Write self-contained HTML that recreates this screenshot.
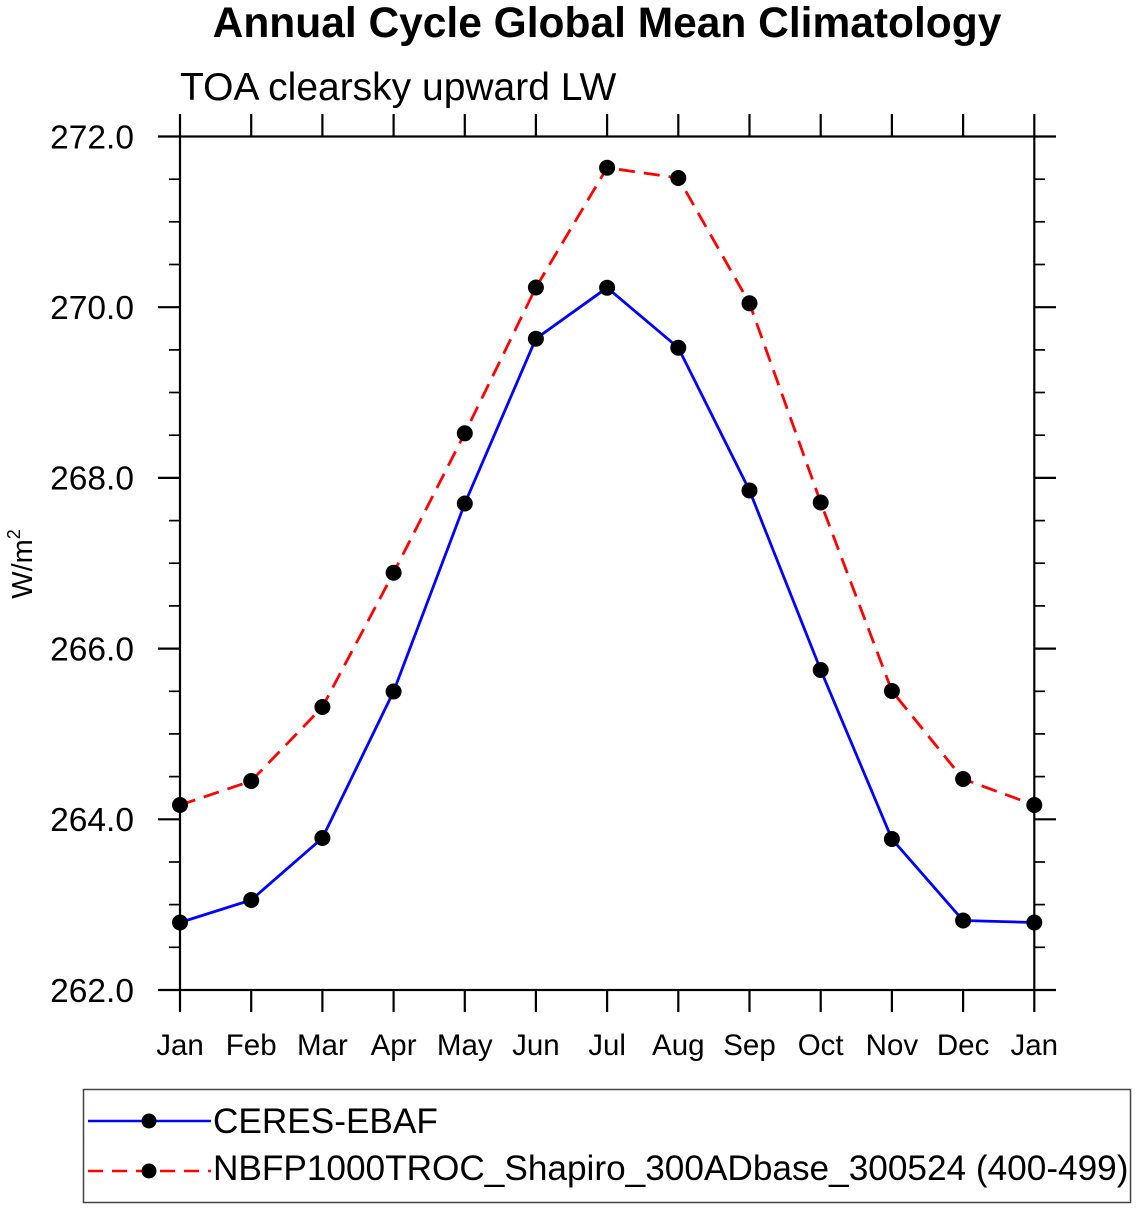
<!DOCTYPE html>
<html>
<head>
<meta charset="utf-8">
<style>
html,body{margin:0;padding:0;background:#fff;}
svg{display:block;}
text{font-family:"Liberation Sans",Arial,sans-serif;fill:#000;}
</style>
</head>
<body>
<svg width="1137" height="1209" viewBox="0 0 1137 1209" xmlns="http://www.w3.org/2000/svg">
<rect width="1137" height="1209" fill="#fff"/>
<text x="607" y="37" font-size="42.5" font-weight="bold" text-anchor="middle">Annual Cycle Global Mean Climatology</text>
<text x="180" y="100" font-size="39">TOA clearsky upward LW</text>

<!-- frame -->
<rect x="180" y="136.5" width="854.3" height="853.5" fill="none" stroke="#000" stroke-width="2.2"/>

<!-- y ticks -->
<g stroke="#000" stroke-width="2.2">
<line x1="158" y1="136.5" x2="180" y2="136.5"/>
<line x1="158" y1="307.2" x2="180" y2="307.2"/>
<line x1="158" y1="477.9" x2="180" y2="477.9"/>
<line x1="158" y1="648.6" x2="180" y2="648.6"/>
<line x1="158" y1="819.3" x2="180" y2="819.3"/>
<line x1="158" y1="990" x2="180" y2="990"/>
<line x1="1034.3" y1="136.5" x2="1056" y2="136.5"/>
<line x1="1034.3" y1="307.2" x2="1056" y2="307.2"/>
<line x1="1034.3" y1="477.9" x2="1056" y2="477.9"/>
<line x1="1034.3" y1="648.6" x2="1056" y2="648.6"/>
<line x1="1034.3" y1="819.3" x2="1056" y2="819.3"/>
<line x1="1034.3" y1="990" x2="1056" y2="990"/>
</g>
<g stroke="#000" stroke-width="1.7">
<line x1="169" y1="179.2" x2="180" y2="179.2"/><line x1="169" y1="221.8" x2="180" y2="221.8"/><line x1="169" y1="264.5" x2="180" y2="264.5"/>
<line x1="169" y1="349.9" x2="180" y2="349.9"/><line x1="169" y1="392.5" x2="180" y2="392.5"/><line x1="169" y1="435.2" x2="180" y2="435.2"/>
<line x1="169" y1="520.6" x2="180" y2="520.6"/><line x1="169" y1="563.2" x2="180" y2="563.2"/><line x1="169" y1="605.9" x2="180" y2="605.9"/>
<line x1="169" y1="691.3" x2="180" y2="691.3"/><line x1="169" y1="733.9" x2="180" y2="733.9"/><line x1="169" y1="776.6" x2="180" y2="776.6"/>
<line x1="169" y1="862" x2="180" y2="862"/><line x1="169" y1="904.6" x2="180" y2="904.6"/><line x1="169" y1="947.3" x2="180" y2="947.3"/>
<line x1="1034.3" y1="179.2" x2="1045" y2="179.2"/><line x1="1034.3" y1="221.8" x2="1045" y2="221.8"/><line x1="1034.3" y1="264.5" x2="1045" y2="264.5"/>
<line x1="1034.3" y1="349.9" x2="1045" y2="349.9"/><line x1="1034.3" y1="392.5" x2="1045" y2="392.5"/><line x1="1034.3" y1="435.2" x2="1045" y2="435.2"/>
<line x1="1034.3" y1="520.6" x2="1045" y2="520.6"/><line x1="1034.3" y1="563.2" x2="1045" y2="563.2"/><line x1="1034.3" y1="605.9" x2="1045" y2="605.9"/>
<line x1="1034.3" y1="691.3" x2="1045" y2="691.3"/><line x1="1034.3" y1="733.9" x2="1045" y2="733.9"/><line x1="1034.3" y1="776.6" x2="1045" y2="776.6"/>
<line x1="1034.3" y1="862" x2="1045" y2="862"/><line x1="1034.3" y1="904.6" x2="1045" y2="904.6"/><line x1="1034.3" y1="947.3" x2="1045" y2="947.3"/>
</g>

<!-- x ticks -->
<g stroke="#000" stroke-width="2.2">
<line x1="180" y1="114" x2="180" y2="136.5"/><line x1="251.2" y1="114" x2="251.2" y2="136.5"/><line x1="322.4" y1="114" x2="322.4" y2="136.5"/>
<line x1="393.6" y1="114" x2="393.6" y2="136.5"/><line x1="464.8" y1="114" x2="464.8" y2="136.5"/><line x1="535.9" y1="114" x2="535.9" y2="136.5"/>
<line x1="607.1" y1="114" x2="607.1" y2="136.5"/><line x1="678.3" y1="114" x2="678.3" y2="136.5"/><line x1="749.5" y1="114" x2="749.5" y2="136.5"/>
<line x1="820.7" y1="114" x2="820.7" y2="136.5"/><line x1="891.9" y1="114" x2="891.9" y2="136.5"/><line x1="963.1" y1="114" x2="963.1" y2="136.5"/>
<line x1="1034.3" y1="114" x2="1034.3" y2="136.5"/>
<line x1="180" y1="990" x2="180" y2="1012"/><line x1="251.2" y1="990" x2="251.2" y2="1012"/><line x1="322.4" y1="990" x2="322.4" y2="1012"/>
<line x1="393.6" y1="990" x2="393.6" y2="1012"/><line x1="464.8" y1="990" x2="464.8" y2="1012"/><line x1="535.9" y1="990" x2="535.9" y2="1012"/>
<line x1="607.1" y1="990" x2="607.1" y2="1012"/><line x1="678.3" y1="990" x2="678.3" y2="1012"/><line x1="749.5" y1="990" x2="749.5" y2="1012"/>
<line x1="820.7" y1="990" x2="820.7" y2="1012"/><line x1="891.9" y1="990" x2="891.9" y2="1012"/><line x1="963.1" y1="990" x2="963.1" y2="1012"/>
<line x1="1034.3" y1="990" x2="1034.3" y2="1012"/>
</g>

<!-- y tick labels -->
<g font-size="33.5" text-anchor="end">
<text x="134" y="148.3">272.0</text>
<text x="134" y="319">270.0</text>
<text x="134" y="489.7">268.0</text>
<text x="134" y="660.4">266.0</text>
<text x="134" y="831.1">264.0</text>
<text x="134" y="1001.8">262.0</text>
</g>

<!-- x tick labels -->
<g font-size="29.5" text-anchor="middle">
<text x="180" y="1055">Jan</text>
<text x="251.2" y="1055">Feb</text>
<text x="322.4" y="1055">Mar</text>
<text x="393.6" y="1055">Apr</text>
<text x="464.8" y="1055">May</text>
<text x="535.9" y="1055">Jun</text>
<text x="607.1" y="1055">Jul</text>
<text x="678.3" y="1055">Aug</text>
<text x="749.5" y="1055">Sep</text>
<text x="820.7" y="1055">Oct</text>
<text x="891.9" y="1055">Nov</text>
<text x="963.1" y="1055">Dec</text>
<text x="1034.3" y="1055">Jan</text>
</g>

<!-- y axis label -->
<text transform="translate(32,564) rotate(-90)" font-size="29" text-anchor="middle">W/m<tspan font-size="18" dy="-12">2</tspan></text>

<!-- series -->
<polyline fill="none" stroke="#ff0000" stroke-width="2.8" stroke-dasharray="16,9"
 points="180,805 251.2,781 322.4,707 393.6,572.7 464.8,433.3 535.9,287.5 607.1,167.7 678.3,178 749.5,303.3 820.7,502.5 891.9,691 963.1,779 1034.3,805"/>
<polyline fill="none" stroke="#0000ff" stroke-width="2.8"
 points="180,922.5 251.2,900 322.4,838 393.6,691.5 464.8,503.5 535.9,338.7 607.1,287.7 678.3,347.7 749.5,490.5 820.7,670 891.9,839 963.1,920.5 1034.3,922.5"/>

<g fill="#000">
<circle cx="180" cy="805" r="8"/><circle cx="251.2" cy="781" r="8"/><circle cx="322.4" cy="707" r="8"/>
<circle cx="393.6" cy="572.7" r="8"/><circle cx="464.8" cy="433.3" r="8"/><circle cx="535.9" cy="287.5" r="8"/>
<circle cx="607.1" cy="167.7" r="8"/><circle cx="678.3" cy="178" r="8"/><circle cx="749.5" cy="303.3" r="8"/>
<circle cx="820.7" cy="502.5" r="8"/><circle cx="891.9" cy="691" r="8"/><circle cx="963.1" cy="779" r="8"/>
<circle cx="1034.3" cy="805" r="8"/>
<circle cx="180" cy="922.5" r="8"/><circle cx="251.2" cy="900" r="8"/><circle cx="322.4" cy="838" r="8"/>
<circle cx="393.6" cy="691.5" r="8"/><circle cx="464.8" cy="503.5" r="8"/><circle cx="535.9" cy="338.7" r="8"/>
<circle cx="607.1" cy="287.7" r="8"/><circle cx="678.3" cy="347.7" r="8"/><circle cx="749.5" cy="490.5" r="8"/>
<circle cx="820.7" cy="670" r="8"/><circle cx="891.9" cy="839" r="8"/><circle cx="963.1" cy="920.5" r="8"/>
<circle cx="1034.3" cy="922.5" r="8"/>
</g>

<!-- legend -->
<rect x="83.5" y="1089.5" width="1047" height="113" fill="none" stroke="#444" stroke-width="1.5"/>
<line x1="88" y1="1121" x2="211" y2="1121" stroke="#0000ff" stroke-width="2.5"/>
<circle cx="149" cy="1121" r="7.5" fill="#000"/>
<line x1="88" y1="1171" x2="211" y2="1171" stroke="#ff0000" stroke-width="2.5" stroke-dasharray="15,9"/>
<circle cx="149" cy="1171" r="7.5" fill="#000"/>
<text x="213" y="1133" font-size="35.2">CERES-EBAF</text>
<text x="213" y="1180" font-size="35.2">NBFP1000TROC_Shapiro_300ADbase_300524 (400-499)</text>
</svg>
</body>
</html>
